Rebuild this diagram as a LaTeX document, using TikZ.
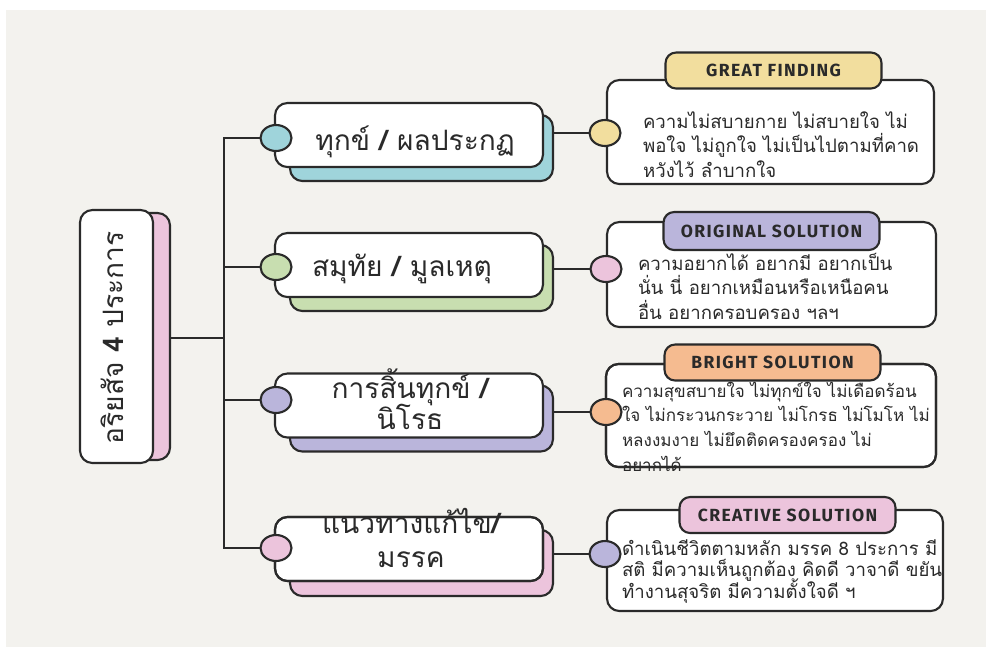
\documentclass[tikz,border=0pt]{standalone}
\usepackage{fontspec}
\usetikzlibrary{shapes.geometric}
\setmainfont{Loma}[Script=Thai]
\newfontfamily\labfont{Fira Sans}[LetterSpace=8]
\definecolor{paper}{HTML}{F3F2EE}
\definecolor{ink}{HTML}{2A2A2A}
\definecolor{cyanc}{HTML}{9FD4DB}
\definecolor{greenc}{HTML}{C8DEB0}
\definecolor{lavc}{HTML}{BAB5DB}
\definecolor{pinkc}{HTML}{ECC4DC}
\definecolor{yellowc}{HTML}{F2DE9E}
\definecolor{orangec}{HTML}{F5BB90}
\newcommand\stack[2]{\vtop{\baselineskip=#1\lineskiplimit=-100pt\lineskip=0pt\halign{##\hfil\cr#2\crcr}}}
\newcommand\cstack[2]{\vtop{\baselineskip=#1\lineskiplimit=-100pt\lineskip=0pt\halign{\hfil##\hfil\cr#2\crcr}}}
\begin{document}
\begin{tikzpicture}[x=0.02cm,y=-0.02cm,
  outl/.style={draw=ink,line width=1.2pt},
  conn/.style={draw=ink,line width=1.2pt},
  mbox/.style={rectangle,rounded corners=7pt,fill=white,outl,inner sep=0pt,outer sep=0pt,minimum width=5.36cm,minimum height=1.28cm},
  shbox/.style={rectangle,rounded corners=7pt,outl,inner sep=0pt,outer sep=0pt,minimum width=5.26cm,minimum height=1.32cm},
  knob/.style={ellipse,outl,inner sep=0pt,outer sep=0pt,minimum width=0.62cm,minimum height=0.52cm},
  rbox/.style={rectangle,rounded corners=7pt,fill=white,outl,inner sep=0pt,outer sep=0pt},
  labeltag/.style={rectangle,rounded corners=6pt,outl,inner sep=0pt,outer sep=0pt,minimum width=4.32cm,minimum height=0.72cm,font=\labfont\bfseries\fontsize{10}{12}\selectfont,text=ink},
  mtext/.style={anchor=base,inner sep=0pt,outer sep=0pt,text=ink,font=\fontsize{16}{19}\selectfont},
  rtext/.style={anchor=base west,inner sep=0pt,outer sep=0pt,text=ink,font=\fontsize{10.6}{13}\selectfont}
]
\useasboundingbox (0,0) rectangle (986,647);
\fill[white] (0,0) rectangle (986,647);
\fill[paper] (6,10) rectangle (986,647);

% root
\node[rectangle,rounded corners=7pt,outl,fill=pinkc,inner sep=0pt,outer sep=0pt,minimum width=1.5cm,minimum height=4.94cm] (rootsh) at (132.5,336.5) {};
\node[rectangle,rounded corners=7pt,outl,fill=white,inner sep=0pt,outer sep=0pt,minimum width=1.46cm,minimum height=5.06cm] (root) at (116.5,336.5) {};
\node[mtext,rotate=90] (roott) at (123,338) {อริยสัจ {\bfseries 4} ประการ};

% middle shadows
\node[shbox,fill=cyanc] (s1) at (421.5,148) {};
\node[shbox,fill=greenc] (s2) at (421.5,278) {};
\node[shbox,fill=lavc] (s3) at (421.5,418.5) {};
\node[shbox,fill=pinkc] (s4) at (421.5,563) {};
% middle boxes
\node[mbox] (m1) at (409,135) {};
\node[mbox] (m2) at (409,265) {};
\node[mbox] (m3) at (409,405.5) {};
\node[mbox] (m4) at (409,549) {};
% middle texts
\node[mtext] (m1t) at (415,150) {ทุกข์ {\bfseries /} ผลประกฏ};
\node[mtext] (m2t) at (402,276) {สมุทัย {\bfseries /} มูลเหตุ};
\node[mtext] (m3t) at (410,398) {\cstack{18.1pt}{การสิ้นทุกข์ {\bfseries /}\cr นิโรธ}};
\node[mtext] (m4t) at (411,533) {\cstack{19.8pt}{แนวทางแก้ไข{\bfseries /}\cr มรรค}};
\draw[outl,rounded corners=7pt] (m4.north west) rectangle (m4.south east);
% middle knobs
\node[knob,fill=cyanc] (c1) at (276,138) {};
\node[knob,fill=greenc] (c2) at (276,267) {};
\node[knob,fill=lavc] (c3) at (276,400) {};
\node[knob,fill=pinkc] (c4) at (276,548) {};

% right boxes
\node[rbox,minimum width=6.54cm,minimum height=2.08cm] (r1) at (770.5,132) {};
\node[rbox,minimum width=6.58cm,minimum height=2.10cm] (r2) at (771.5,274.5) {};
\node[rbox,minimum width=6.60cm,minimum height=2.06cm] (r3) at (771,415.5) {};
\node[rbox,minimum width=6.72cm,minimum height=2.02cm] (r4) at (775,560.5) {};
\node[rtext] (r1t) at (643,128) {\stack{14pt}{ความไม่สบายกาย ไม่สบายใจ ไม่\cr พอใจ ไม่ถูกใจ ไม่เป็นไปตามที่คาด\cr หวังไว้ ลำบากใจ}};
\node[rtext] (r2t) at (638,270) {\stack{14.2pt}{ความอยากได้ อยากมี อยากเป็น\cr นั่น นี่ อยากเหมือนหรือเหนือคน\cr อื่น อยากครอบครอง ฯลฯ}};
\node[rtext,font=\fontsize{9.7}{12}\selectfont] (r3t) at (622,397) {\stack{14.1pt}{ความสุขสบายใจ ไม่ทุกข์ใจ ไม่เดือดร้อน\cr ใจ ไม่กระวนกระวาย ไม่โกรธ ไม่โมโห ไม่\cr หลงงมงาย ไม่ยึดติดครองครอง ไม่\cr อยากได้}};
\node[rtext] (r4t) at (622,555) {\stack{12.5pt}{ดำเนินชีวิตตามหลัก มรรค 8 ประการ มี\cr สติ มีความเห็นถูกต้อง คิดดี วาจาดี ขยัน\cr ทำงานสุจริต มีความตั้งใจดี ฯ}};
\draw[outl,rounded corners=7pt] (r3.north west) rectangle (r3.south east);
% right knobs
\node[knob,fill=yellowc] (rc1) at (605,133) {};
\node[knob,fill=pinkc] (rc2) at (606,269) {};
\node[knob,fill=orangec] (rc3) at (606,412) {};
\node[knob,fill=lavc] (rc4) at (605,554) {};
% labels
\node[labeltag,fill=yellowc] (l1) at (773.5,70.5) {GREAT FINDING};
\node[labeltag,fill=lavc,minimum height=0.76cm] (l2) at (771.5,231) {ORIGINAL SOLUTION};
\node[labeltag,fill=orangec] (l3) at (772.5,362.5) {BRIGHT SOLUTION};
\node[labeltag,fill=pinkc] (l4) at (787.5,515) {CREATIVE SOLUTION};

% connectors
\coordinate (hub) at (224,338);
\draw[conn] (rootsh.east |- hub) -- (hub);
\draw[conn] (c1.west) -- (c1.west -| hub) -- (c4.west -| hub) -- (c4.west);
\draw[conn] (c2.west) -- (c2.west -| hub);
\draw[conn] (c3.west) -- (c3.west -| hub);
\draw[conn] (rc1.west -| s1.east) -- (rc1.west);
\draw[conn] (rc2.west -| s2.east) -- (rc2.west);
\draw[conn] (rc3.west -| s3.east) -- (rc3.west);
\draw[conn] (rc4.west -| s4.east) -- (rc4.west);
\end{tikzpicture}
\end{document}
